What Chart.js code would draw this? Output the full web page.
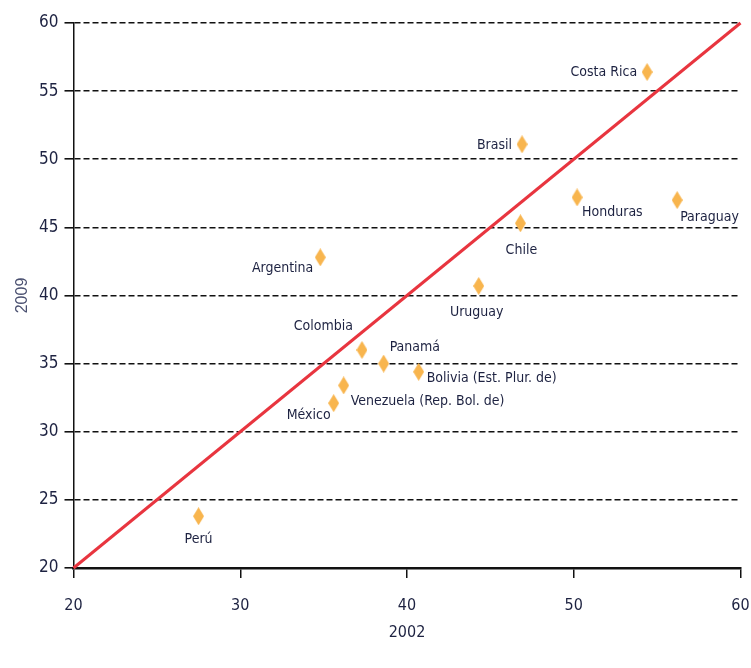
<!DOCTYPE html>
<html>
<head>
<meta charset="utf-8">
<script src="https://cdn.jsdelivr.net/npm/chart.js@4/dist/chart.umd.min.js"></script>
<style>
  body { margin: 0; background: #fff; }
  canvas { display: block; }
</style>
</head>
<body>
<canvas id="myChart" width="751" height="668"></canvas>
<script>
const countries = ["Costa Rica", "Brasil", "Honduras", "Paraguay", "Chile", "Argentina", "Uruguay",
  "Colombia", "Panamá", "Bolivia (Est. Plur. de)", "Venezuela (Rep. Bol. de)", "México", "Perú"];
const values2002 = [54.4, 46.9, 50.2, 56.2, 46.8, 34.8, 44.3, 37.3, 38.6, 40.7, 36.2, 35.6, 27.5];
const values2009 = [56.4, 51.1, 47.2, 47.0, 45.3, 42.8, 40.7, 36.0, 35.0, 34.4, 33.4, 32.1, 23.8];
const xTicks = [20, 30, 40, 50, 60];
const yTicks = [20, 25, 30, 35, 40, 45, 50, 55, 60];

// where each name sits next to its marker (px offset + alignment)
const labelPlace = [
  [-10, 0, "right"], [-10, 1, "right"], [5, 15, "left"], [3, 17, "left"], [1, 27, "center"],
  [-7, 11, "right"], [-2, 26, "center"], [-9, -24, "right"], [6, -16, "left"], [8, 7, "left"],
  [7, 16, "left"], [-3, 12, "right"], [0, 23, "center"]
];

const narrow = "'DejaVu Sans', Arial, sans-serif";
const textColor = "#1d2241";

// tall thin diamond marker
const diamond = document.createElement("canvas");
diamond.width = 11;
diamond.height = 18;
const dctx = diamond.getContext("2d");
dctx.fillStyle = "#f8b54e";
dctx.beginPath();
dctx.moveTo(5.5, 0);
dctx.lineTo(11, 9);
dctx.lineTo(5.5, 18);
dctx.lineTo(0, 9);
dctx.closePath();
dctx.fill();

const nameLabels = {
  id: "nameLabels",
  afterDatasetsDraw(chart) {
    const ctx = chart.ctx;
    const meta = chart.getDatasetMeta(0);
    ctx.save();
    ctx.font = "normal condensed 14px " + narrow;
    ctx.fillStyle = textColor;
    ctx.textBaseline = "middle";
    meta.data.forEach((pt, i) => {
      const p = labelPlace[i];
      ctx.textAlign = p[2];
      ctx.fillText(countries[i], pt.x + p[0], pt.y + p[1]);
    });
    ctx.restore();
  },
};

new Chart(document.getElementById("myChart"), {
  type: "scatter",
  data: {
    datasets: [
      {
        label: "Países",
        data: countries.map((c, i) => ({ x: values2002[i], y: values2009[i] })),
        pointStyle: diamond,
        pointRadius: 6,
        pointHoverRadius: 6,
      },
      {
        label: "45°",
        data: [{ x: xTicks[0], y: yTicks[0] }, { x: xTicks[xTicks.length - 1], y: yTicks[yTicks.length - 1] }],
        showLine: true,
        borderColor: "#e8353f",
        borderWidth: 3,
        pointRadius: 0,
        clip: false,
      },
    ],
  },
  options: {
    responsive: false,
    animation: false,
    layout: { padding: { top: 23, right: 10.5, left: 0, bottom: 0 } },
    plugins: { legend: { display: false }, tooltip: { enabled: false } },
    scales: {
      x: {
        type: "linear",
        min: 20,
        max: 60,
        afterBuildTicks: (s) => { s.ticks = xTicks.map((v) => ({ value: v })); },
        afterFit: (s) => { s.height = 100; s.paddingLeft = 0; s.paddingRight = 0; },
        grid: { drawOnChartArea: false, drawTicks: true, tickLength: 10, color: "#111", lineWidth: 1.5 },
        border: { color: "#111", width: 2.5 },
        ticks: { color: textColor, font: { family: narrow, size: 16, weight: "normal condensed" }, padding: 18 },
        title: {
          display: true,
          text: "2002",
          color: textColor,
          font: { family: narrow, size: 16, weight: "normal condensed" },
          padding: { top: 0, bottom: 26 },
        },
      },
      y: {
        type: "linear",
        min: 20,
        max: 60,
        afterBuildTicks: (s) => { s.ticks = yTicks.map((v) => ({ value: v })); },
        afterFit: (s) => { s.width = 73.5; },
        grid: { color: "#111", lineWidth: 1.6, tickLength: 9, tickColor: "#111", tickBorderDash: [] },
        border: { color: "#111", width: 1.5, dash: [6, 3] },
        ticks: { color: textColor, font: { family: narrow, size: 17, weight: "normal condensed" }, padding: 6 },
        title: {
          display: true,
          text: "2009",
          color: "#4a5070",
          font: { family: "'Liberation Sans', Arial, sans-serif", size: 16 },
          padding: { top: 13, bottom: 0 },
        },
      },
    },
  },
  plugins: [nameLabels],
});
</script>
</body>
</html>
